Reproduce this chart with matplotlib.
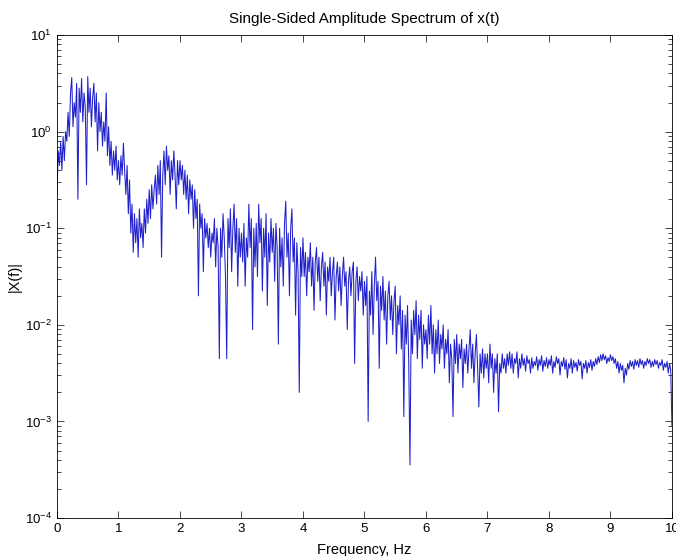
import numpy as np
import matplotlib
matplotlib.use("Agg")
import matplotlib.pyplot as plt

# ---- log10 |X(f)|, 0.02 Hz steps, one list per Hz ----
seg0 = [-0.65, -0.2, -0.35, -0.1, -0.4, -0.05, -0.3, 0.0, -0.1, 0.2,
        -0.05, 0.4, 0.56, 0.05, 0.3, 0.15, 0.5, -0.7, 0.45, 0.2,
        0.55, 0.1, 0.4, 0.25, -0.55, 0.57, 0.2, 0.45, 0.05, 0.35,
        0.5, 0.1, 0.4, -0.2, 0.3, 0.0, 0.2, -0.15, 0.1, -0.1,
        0.4, -0.25, 0.05, -0.35, -0.1, -0.45, -0.2, -0.4, -0.15, -0.5]
seg1 = [-0.3, -0.55, -0.25, -0.45, -0.12, -0.4, -0.65, -0.35, -0.85, -0.5,
        -1.05, -0.75, -1.25, -0.85, -1.15, -0.9, -1.3, -0.8, -1.1, -0.95,
        -1.2, -0.8, -1.05, -0.7, -0.95, -0.6, -0.9, -0.55, -0.8, -0.6,
        -0.45, -0.75, -0.35, -0.65, -0.3, -1.3, -0.45, -0.2, -0.55, -0.15,
        -0.4, -0.25, -0.65, -0.3, -0.5, -0.2, -0.45, -0.8, -0.3, -0.55]
seg2 = [-0.3, -0.5, -0.35, -0.65, -0.4, -0.7, -0.45, -0.85, -0.5, -0.7,
        -0.55, -1.0, -0.6, -0.9, -0.7, -1.7, -0.75, -1.0, -0.85, -1.45,
        -0.9, -1.1, -0.95, -1.2, -1.0, -1.3, -1.05, -1.15, -0.9, -1.4,
        -1.0, -1.2, -2.35, -1.0, -1.3, -0.85, -1.1, -1.5, -2.35, -0.9,
        -1.2, -0.8, -1.45, -1.0, -0.75, -1.25, -0.9, -1.6, -1.0, -1.3]
seg3 = [-1.05, -1.35, -0.95, -1.6, -1.1, -1.3, -0.75, -1.2, -0.9, -2.05,
        -1.0, -1.4, -0.95, -1.5, -0.75, -1.15, -0.9, -1.65, -1.0, -1.3,
        -0.85, -1.8, -1.05, -1.35, -0.9, -1.25, -1.0, -1.55, -0.95, -1.2,
        -2.2, -1.0, -1.4, -1.1, -1.6, -0.95, -0.72, -1.3, -1.05, -1.7,
        -1.0, -0.8, -1.35, -1.1, -1.9, -1.15, -1.45, -2.7, -1.2, -1.5]
seg4 = [-1.1, -1.5, -1.25, -1.7, -1.3, -1.45, -1.15, -1.6, -1.3, -1.85,
        -1.35, -1.2, -1.55, -1.3, -1.75, -1.4, -1.25, -1.6, -1.35, -1.9,
        -1.4, -1.55, -1.3, -1.7, -1.45, -1.3, -1.95, -1.5, -1.35, -1.65,
        -1.4, -1.8, -1.5, -1.3, -1.6, -1.45, -2.05, -1.55, -1.4, -1.7,
        -1.45, -1.35, -2.4, -1.55, -1.4, -1.75, -1.5, -1.65, -1.45, -1.9]
seg5 = [-1.55, -1.8, -1.5, -3.0, -1.65, -1.9, -1.45, -2.1, -1.6, -1.3,
        -1.75, -1.55, -2.45, -1.6, -1.85, -1.5, -1.95, -1.65, -2.2, -1.7,
        -1.55, -1.95, -1.7, -2.1, -1.75, -1.6, -2.3, -1.8, -2.0, -1.7,
        -2.25, -1.85, -2.95, -1.9, -2.2, -1.8, -2.4, -3.45, -1.95, -2.3,
        -1.85, -2.1, -1.75, -2.35, -1.9, -2.15, -1.85, -2.45, -2.0, -2.2]
seg6 = [-2.05, -2.35, -1.9, -2.2, -1.8, -2.3, -2.0, -2.5, -2.05, -2.3,
        -1.95, -2.4, -2.1, -2.25, -2.0, -2.45, -2.15, -2.3, -2.05, -2.6,
        -2.2, -2.35, -2.95, -2.15, -2.4, -2.1, -2.5, -2.2, -2.35, -2.15,
        -2.65, -2.25, -2.4, -2.2, -2.5, -2.25, -2.05, -2.45, -2.2, -2.6,
        -2.3, -2.1, -2.45, -2.85, -2.3, -2.5, -2.25, -2.55, -2.3, -2.45]
seg7 = [-2.3, -2.6, -2.2, -2.45, -2.3, -2.7, -2.35, -2.5, -2.3, -2.9,
        -2.4, -2.5, -2.3, -2.45, -2.35, -2.5, -2.3, -2.42, -2.28, -2.45,
        -2.3, -2.5, -2.35, -2.4, -2.28, -2.55, -2.35, -2.45, -2.3, -2.42,
        -2.35, -2.48, -2.32, -2.4, -2.36, -2.5, -2.34, -2.45, -2.38, -2.42,
        -2.33, -2.47, -2.36, -2.42, -2.32, -2.48, -2.37, -2.43, -2.34, -2.45]
seg8 = [-2.36, -2.42, -2.32, -2.5, -2.38, -2.44, -2.33, -2.4, -2.35, -2.52,
        -2.38, -2.43, -2.34, -2.46, -2.36, -2.55, -2.4, -2.45, -2.35, -2.5,
        -2.37, -2.44, -2.39, -2.48, -2.36, -2.42, -2.38, -2.56, -2.4, -2.45,
        -2.37, -2.5, -2.39, -2.44, -2.36, -2.47, -2.38, -2.43, -2.35, -2.41,
        -2.33, -2.39, -2.31, -2.37, -2.3, -2.36, -2.32, -2.4, -2.34, -2.38]
seg9 = [-2.31, -2.37, -2.33, -2.4, -2.35, -2.45, -2.38, -2.5, -2.4, -2.47,
        -2.42, -2.6, -2.45, -2.52, -2.4, -2.46, -2.37, -2.43, -2.38, -2.46,
        -2.36, -2.42, -2.37, -2.44, -2.35, -2.41, -2.37, -2.45, -2.38, -2.42,
        -2.35, -2.4, -2.36, -2.44, -2.38, -2.43, -2.36, -2.41, -2.37, -2.45,
        -2.39, -2.42, -2.36, -2.47, -2.4, -2.44, -2.38, -2.5, -2.4, -2.46,
        -3.05]

x_ticks = [0, 1, 2, 3, 4, 5, 6, 7, 8, 9, 10]

log_amp = np.array(seg0 + seg1 + seg2 + seg3 + seg4 + seg5 + seg6 + seg7 + seg8 + seg9)
amp = 10.0 ** log_amp
freq = np.linspace(0, 10, len(amp))

# ---- style ----
plt.rcParams["font.family"] = ["Liberation Sans", "DejaVu Sans"]
plt.rcParams["mathtext.fontset"] = "custom"
plt.rcParams["mathtext.rm"] = "Liberation Sans"
plt.rcParams["mathtext.it"] = "Liberation Sans"

fig = plt.figure(figsize=(6.76, 5.56), dpi=100)
ax = fig.add_axes([0.0843, 0.0683, 0.9097, 0.8687])

ax.semilogy(freq, amp, color="#2020cc", linewidth=0.75)

ax.set_xlim(0, 10)
ax.set_ylim(1e-4, 1e1)
ax.set_xticks(x_ticks)
ax.set_xticklabels([str(t) for t in x_ticks])

ax.tick_params(which="both", direction="in", top=True, right=True,
               labelsize=9.5, width=0.5, colors="black")
ax.tick_params(which="major", length=5)
ax.tick_params(which="minor", length=3)
for s in ax.spines.values():
    s.set_linewidth(0.6)

ax.set_title("Single-Sided Amplitude Spectrum of x(t)", fontsize=11, pad=9)
ax.set_xlabel("Frequency, Hz", fontsize=10.5, labelpad=6)
ax.set_ylabel("|X(f)|", fontsize=10.5, labelpad=2)

fig.savefig("out.png", dpi=100)
